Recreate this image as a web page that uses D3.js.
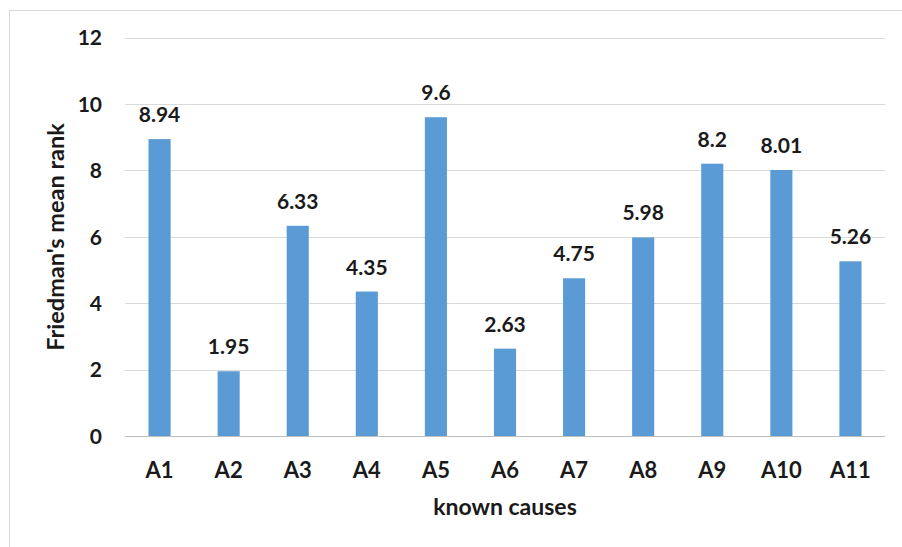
<!DOCTYPE html>
<html><head><meta charset="utf-8">
<script src="https://cdn.jsdelivr.net/npm/d3@7"></script>
<style>body{margin:0;background:#fff;} svg{display:block;font-family:Lato,"Open Sans",sans-serif;}</style>
</head><body>
<svg id="chart" width="902" height="547"></svg>
<script>
const categories = ["A1","A2","A3","A4","A5","A6","A7","A8","A9","A10","A11"];
const values = [8.94,1.95,6.33,4.35,9.6,2.63,4.75,5.98,8.2,8.01,5.26];
const yTicks = [0,2,4,6,8,10,12];

const svg = d3.select("#chart");
const m = {left:125, right:885, top:37.5, bottom:436};
const ink = "#1a1a1a";

svg.append("rect").attr("x",9.5).attr("y",10.5).attr("width",920).attr("height",560)
  .attr("fill","none").attr("stroke","#d9d9d9").attr("stroke-width",1);

const x = d3.scaleBand().domain(categories).range([m.left,m.right]).paddingInner(0.68).paddingOuter(0.34);
const y = d3.scaleLinear().domain([0,12]).range([m.bottom,m.top]);

const grid = svg.append("g");
grid.selectAll("line").data(yTicks).join("line")
  .attr("x1",m.left).attr("x2",m.right)
  .attr("y1",d=>Math.round(y(d))+0.5).attr("y2",d=>Math.round(y(d))+0.5)
  .attr("stroke",d=>d===0?"#bfbfbf":"#d9d9d9").attr("stroke-width",1.2);

const yAxis = svg.append("g").attr("transform",`translate(${m.left-23},0)`)
  .call(d3.axisLeft(y).tickValues(yTicks).tickSize(0).tickPadding(0));
yAxis.select(".domain").remove();
yAxis.selectAll("text").attr("font-size",21).attr("font-weight","bold").attr("fill",ink)
  .attr("font-family","Lato, sans-serif").attr("dy","0.35em");

const xAxis = svg.append("g").attr("transform",`translate(0,${m.bottom})`)
  .call(d3.axisBottom(x).tickSize(0).tickPadding(26));
xAxis.select(".domain").remove();
xAxis.selectAll("text").attr("font-size",22).attr("font-weight","bold").attr("fill",ink)
  .attr("font-family","Lato, sans-serif");

svg.append("g").selectAll("rect").data(values).join("rect")
  .attr("x",(d,i)=>x(categories[i])).attr("width",x.bandwidth())
  .attr("y",d=>y(d)).attr("height",d=>y(0)-y(d)).attr("fill","#5b9bd5");

svg.append("g").selectAll("text").data(values).join("text")
  .attr("x",(d,i)=>x(categories[i])+x.bandwidth()/2).attr("y",d=>y(d)-17)
  .attr("text-anchor","middle").attr("font-size",21).attr("font-weight","bold").attr("fill",ink)
  .text(d=>d);

svg.append("text").attr("x",505).attr("y",515).attr("text-anchor","middle")
  .attr("font-size",23).attr("font-weight","bold").attr("fill",ink).text("known causes");

svg.append("text").attr("transform",`translate(64,237) rotate(-90)`)
  .attr("text-anchor","middle").attr("font-size",23.5).attr("font-weight","bold").attr("fill",ink)
  .text("Friedman's mean rank");
</script>
</body></html>
